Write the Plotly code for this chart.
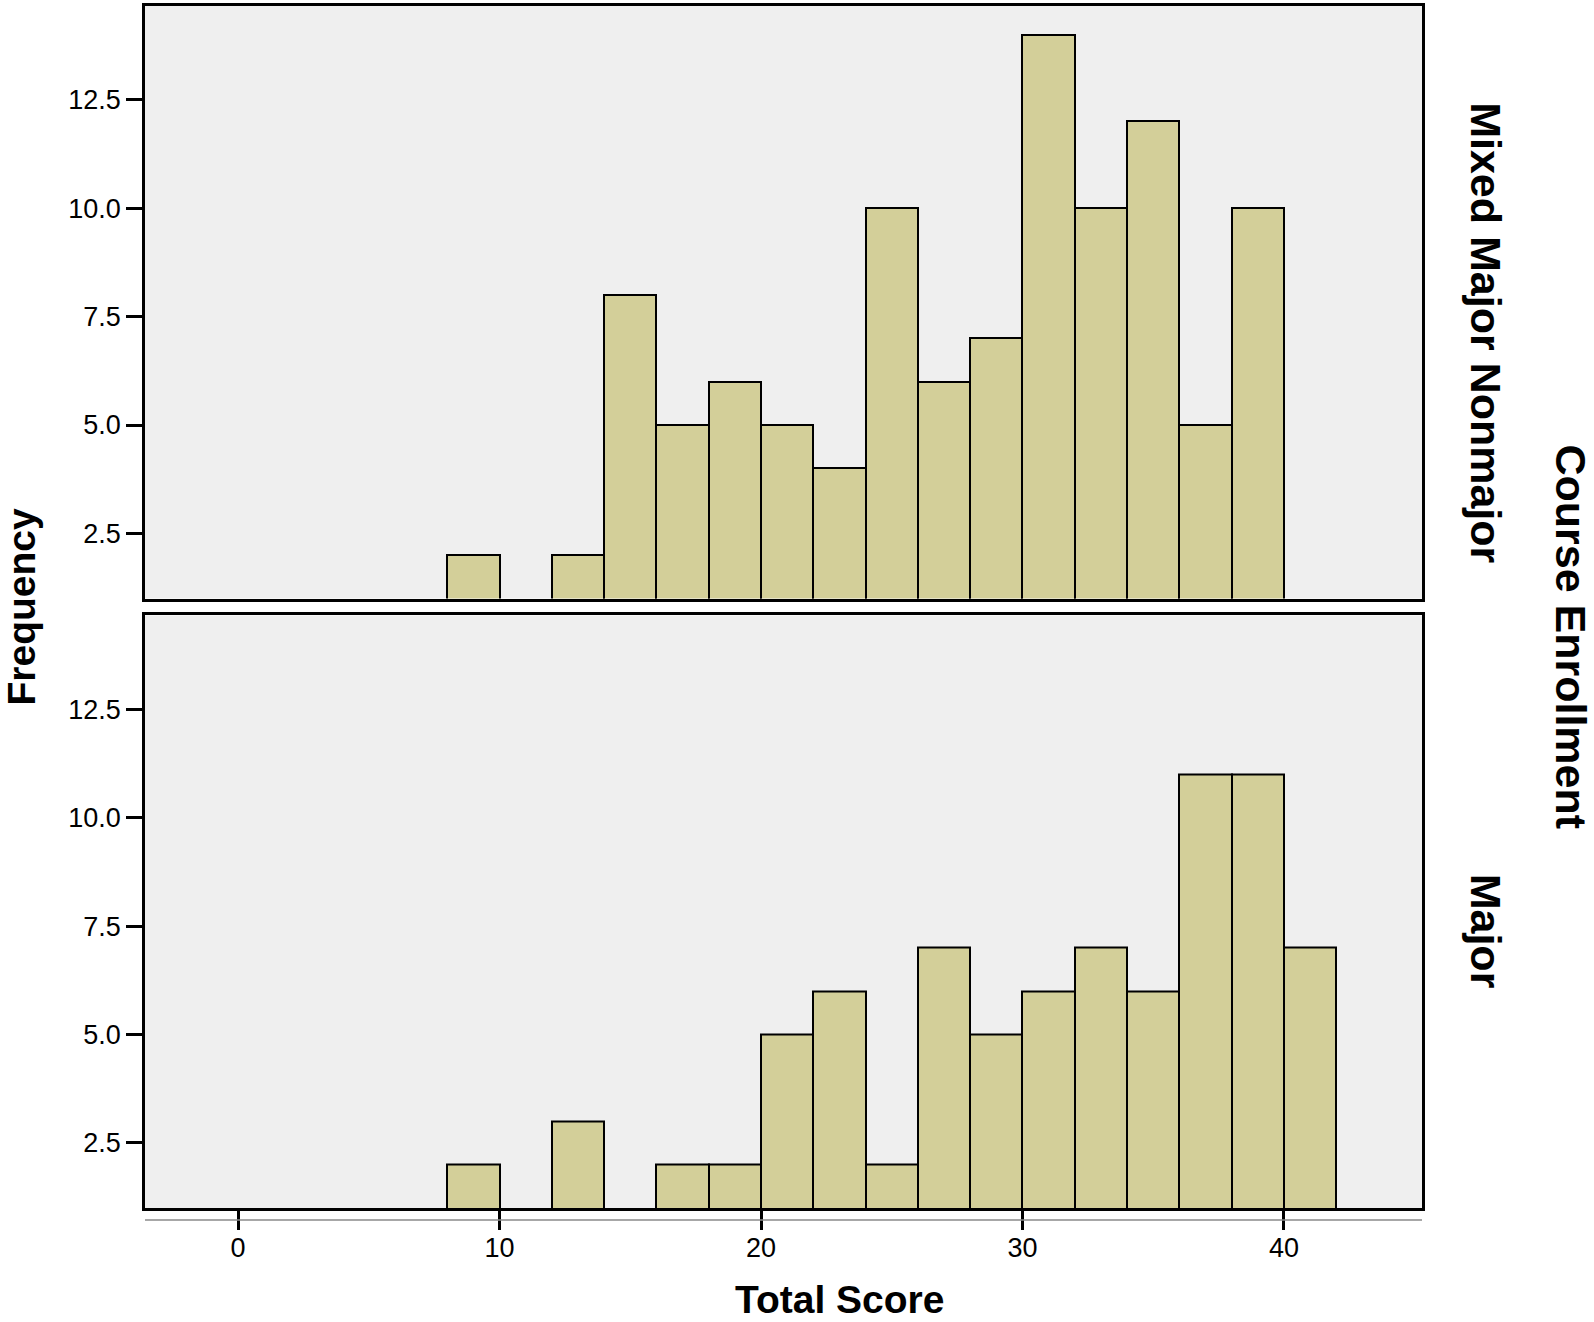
import plotly.graph_objects as go
from plotly.subplots import make_subplots

# histogram bins (left edge, width 2) and counts per course enrollment group
bin_left = [8, 10, 12, 14, 16, 18, 20, 22, 24, 26, 28, 30, 32, 34, 36, 38, 40]
bin_width = 2
mixed_counts = [2, 0, 2, 8, 5, 6, 5, 4, 10, 6, 7, 14, 10, 12, 5, 10, 0]
major_counts = [2, 0, 3, 0, 2, 2, 5, 6, 2, 7, 5, 6, 7, 6, 11, 11, 7]
groups = ["Mixed Major Nonmajor", "Major"]
x_ticks = [0, 10, 20, 30, 40]
y_ticks = [2.5, 5.0, 7.5, 10.0, 12.5]

bar_color = "#d3cf99"
panel_bg = "#efefef"
font_family = "Liberation Sans, Arial, sans-serif"

W, H = 1594, 1322
L, R, T, B = 145, 172, 3, 114
plot_w = W - L - R
plot_h = H - T - B

fig = make_subplots(rows=2, cols=1, shared_xaxes=True, vertical_spacing=17 / plot_h)

centers = [b + bin_width / 2 for b in bin_left]
for row, counts in enumerate([mixed_counts, major_counts], start=1):
    fig.add_trace(go.Bar(
        x=centers, y=counts, width=bin_width,
        marker=dict(color=bar_color, line=dict(color="black", width=2)),
        showlegend=False, hoverinfo="x+y"
    ), row=row, col=1)

for row in (1, 2):
    fig.update_yaxes(
        range=[1.0, 14.66], tickvals=y_ticks, tickformat=".1f",
        ticks="outside", ticklen=16, tickwidth=3, tickcolor="black",
        showline=True, linewidth=2.5, linecolor="black", mirror=True,
        showgrid=False, zeroline=False,
        tickfont=dict(family=font_family, size=27, color="black"),
        row=row, col=1)
    fig.update_xaxes(
        range=[-3.56, 45.28], tickvals=x_ticks,
        showline=True, linewidth=2.5, linecolor="black", mirror=True,
        showgrid=False, zeroline=False,
        row=row, col=1)

fig.update_xaxes(ticks="", showticklabels=False, row=1, col=1)
fig.update_xaxes(ticks="outside", ticklen=19, tickwidth=3, tickcolor="black",
                 showticklabels=True, ticklabelstandoff=-5,
                 tickfont=dict(family=font_family, size=27, color="black"),
                 row=2, col=1)

# thin grey baseline under the lower panel
fig.add_shape(type="line", xref="paper", yref="paper",
              x0=0, x1=1, y0=-12 / plot_h, y1=-12 / plot_h,
              line=dict(color="#8a8a8a", width=1.5))

def px_x(px):
    return (px - L) / plot_w

def px_y(px):
    return 1 - (px - T) / plot_h

title_font = dict(family=font_family, size=39, color="black")
side_font = dict(family=font_family, size=43, color="black")
ann = [
    dict(text="<b>Frequency</b>", x=px_x(22), y=px_y(605), textangle=-90, font=title_font),
    dict(text="<b>Total Score</b>", x=px_x(840), y=px_y(1300), textangle=0, font=title_font),
    dict(text="<b>" + groups[0] + "</b>", x=px_x(1486), y=px_y(330), textangle=90, font=side_font),
    dict(text="<b>" + groups[1] + "</b>", x=px_x(1486), y=px_y(930), textangle=90, font=side_font),
    dict(text="<b>Course Enrollment</b>", x=px_x(1571), y=px_y(635), textangle=90, font=side_font),
]
for a in ann:
    fig.add_annotation(xref="paper", yref="paper", showarrow=False,
                       xanchor="center", yanchor="middle", **a)

fig.update_layout(
    width=W, height=H,
    margin=dict(l=L, r=R, t=T, b=B),
    paper_bgcolor="white", plot_bgcolor=panel_bg,
    bargap=0,
    font=dict(family=font_family, color="black"),
)

fig.write_html("out.html", config={"displayModeBar": False},
               post_script="document.body.style.margin='0px';document.body.style.overflow='hidden';")
